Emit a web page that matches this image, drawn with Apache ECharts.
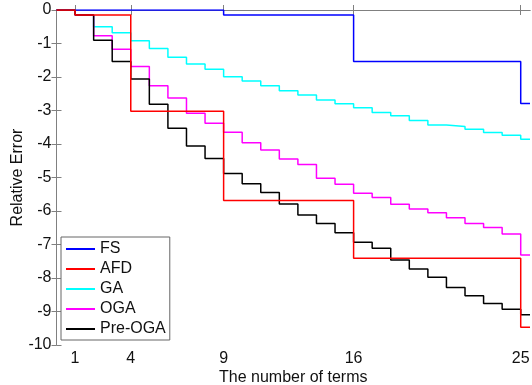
<!DOCTYPE html>
<html>
<head>
<meta charset="utf-8">
<script src="https://cdn.jsdelivr.net/npm/echarts@6/dist/echarts.min.js"></script>
<style>
  html, body { margin: 0; padding: 0; background: #fff; }
  #chart { width: 532px; height: 385px; }
</style>
</head>
<body>
<div id="chart"></div>
<script>
// x positions of the stairs (last one is the right edge of the axes)
var terms = [0, 1, 2, 3, 4, 5, 6, 7, 8, 9, 10, 11, 12, 13, 14, 15, 16, 17, 18, 19, 20, 21, 22, 23, 24, 25, 25.5]
var xTicks = [1, 4, 9, 16, 25]

var fs = [0, 0, 0, 0, 0, 0, 0, 0, 0, -0.15, -0.15, -0.15, -0.15, -0.15, -0.15, -0.15,
  -1.54, -1.54, -1.54, -1.54, -1.54, -1.54, -1.54, -1.54, -1.54, -2.79, -2.79]
var afd = [0, -0.15, -0.15, -0.15, -3.02, -3.02, -3.02, -3.02, -3.02, -5.69, -5.69, -5.69, -5.69, -5.69, -5.69, -5.69,
  -7.41, -7.41, -7.41, -7.41, -7.41, -7.41, -7.41, -7.41, -7.41, -9.47, -9.47]
var ga = [0, -0.15, -0.50, -0.68, -0.92, -1.15, -1.41, -1.61, -1.77, -1.99, -2.12, -2.26, -2.41, -2.54, -2.69, -2.80,
  -2.92, -3.06, -3.16, -3.30, -3.43, -3.48, -3.56, -3.66, -3.74, -3.86, -3.86]
var oga = [0, -0.15, -0.77, -1.17, -1.69, -2.26, -2.63, -3.08, -3.38, -3.65, -3.96, -4.18, -4.45, -4.61, -5.02, -5.20,
  -5.47, -5.60, -5.80, -5.94, -6.05, -6.20, -6.37, -6.49, -6.69, -7.31, -7.31]
var preOga = [0, -0.15, -0.90, -1.54, -2.06, -2.81, -3.53, -4.06, -4.43, -4.88, -5.19, -5.45, -5.79, -6.12, -6.37, -6.65,
  -6.93, -7.11, -7.46, -7.73, -7.98, -8.28, -8.53, -8.76, -8.93, -9.10, -9.10]

var font = "'Liberation Sans', Arial, sans-serif"
var axisGray = '#808080'

function pairs (vals) {
  var out = []
  for (var i = 0; i < vals.length; i++) {
    out.push([terms[i], vals[i]])
  }
  return out
}

function stairs (name, vals, color, z) {
  return {
    name: name,
    type: 'line',
    step: 'end',
    symbol: 'none',
    data: pairs(vals),
    z: z,
    lineStyle: { color: color, width: 1.5 },
    itemStyle: { color: color },
    animation: false
  }
}

var myChart = echarts.init(document.getElementById('chart'))
myChart.setOption({
  backgroundColor: '#fff',
  textStyle: { fontFamily: font },
  grid: { left: 56.5, right: 2, top: 10, bottom: 40, containLabel: false, outerBoundsMode: 'none' },
  legend: {
    orient: 'vertical',
    left: 61,
    top: 237,
    padding: [4, 4, 3, 5],
    icon: 'rect',
    itemWidth: 29,
    itemHeight: 2,
    itemGap: 4,
    borderColor: '#666',
    borderWidth: 1,
    backgroundColor: '#fff',
    textStyle: { fontSize: 16, color: '#111', fontFamily: font, lineHeight: 16 },
    data: ['FS', 'AFD', 'GA', 'OGA', 'Pre-OGA']
  },
  xAxis: [{
    type: 'value',
    min: 0,
    max: 25.5,
    name: 'The number of terms',
    nameLocation: 'middle',
    nameMoveOverlap: false,
    nameGap: 25,
    nameTextStyle: { fontSize: 16, color: '#111' },
    axisLine: { lineStyle: { color: axisGray } },
    axisTick: { inside: true, length: 5, customValues: xTicks, lineStyle: { color: axisGray } },
    axisLabel: { fontSize: 16, color: '#111', margin: 6, customValues: xTicks },
    splitLine: { show: false }
  }, {
    type: 'value',
    position: 'top',
    min: 0,
    max: 25.5,
    axisLine: { show: true, lineStyle: { color: axisGray } },
    axisTick: { inside: true, length: 5, customValues: xTicks, lineStyle: { color: axisGray } },
    axisLabel: { show: false },
    splitLine: { show: false }
  }],
  yAxis: [{
    type: 'value',
    min: -10,
    max: 0,
    interval: 1,
    name: 'Relative Error',
    nameLocation: 'middle',
    nameMoveOverlap: false,
    nameGap: 31,
    nameTextStyle: { fontSize: 16, color: '#111' },
    axisLine: { show: true, lineStyle: { color: axisGray } },
    axisTick: { show: true, inside: true, length: 5, lineStyle: { color: axisGray } },
    axisLabel: { fontSize: 16, color: '#111', margin: 5 },
    splitLine: { show: false }
  }, {
    type: 'value',
    position: 'right',
    min: -10,
    max: 0,
    interval: 1,
    axisLine: { show: true, lineStyle: { color: axisGray } },
    axisTick: { show: true, inside: true, length: 5, lineStyle: { color: axisGray } },
    axisLabel: { show: false },
    splitLine: { show: false }
  }],
  series: [
    stairs('FS', fs, '#0000ff', 2),
    stairs('AFD', afd, '#ff0000', 6),
    stairs('GA', ga, '#00ffff', 3),
    stairs('OGA', oga, '#ff00ff', 4),
    stairs('Pre-OGA', preOga, '#000000', 5)
  ]
})
</script>
</body>
</html>
